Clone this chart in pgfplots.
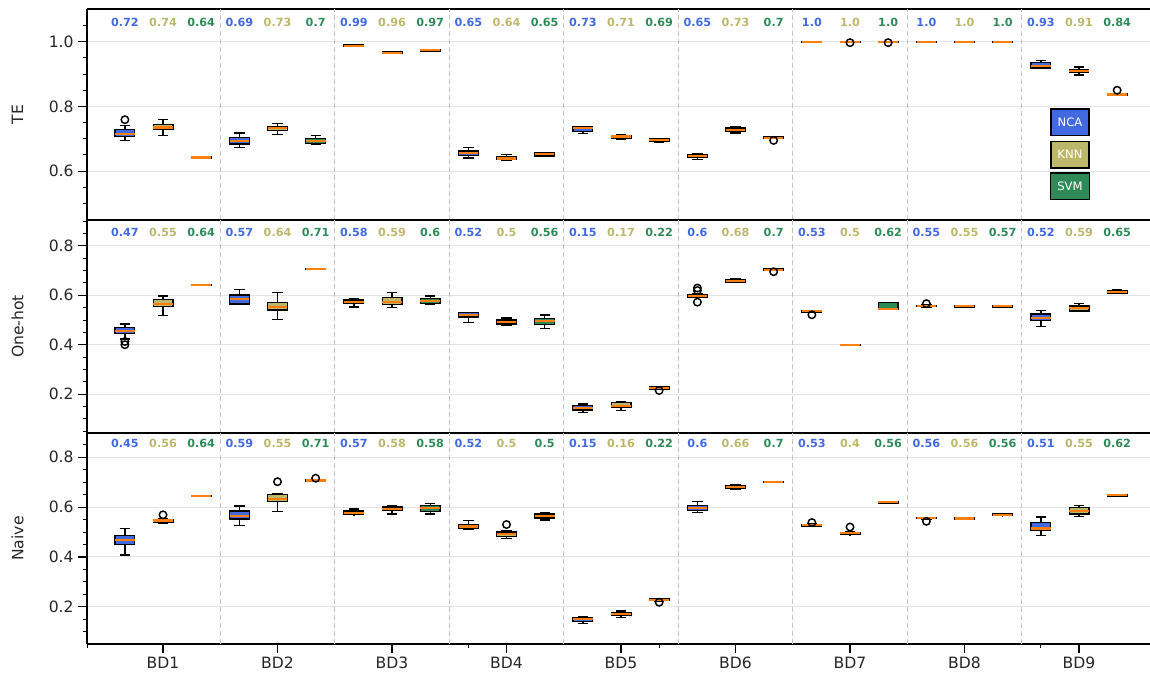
\documentclass[border=0pt]{standalone}
\usepackage{fontspec}
\setmainfont{DejaVu Sans}
\usepackage{pgfplots}
\pgfplotsset{compat=1.18}
\usepgfplotslibrary{statistics}
\definecolor{ncab}{HTML}{4169E1}
\definecolor{knnk}{HTML}{BDB76B}
\definecolor{svmg}{HTML}{2E8B57}
\definecolor{medo}{HTML}{FF7F0E}
\definecolor{gridc}{HTML}{E4E4E4}
\definecolor{vgrid}{HTML}{C4C4C4}

% box: position, lower whisker, lower quartile, median, upper quartile, upper whisker, colour, outliers
\newcommand{\bp}[8]{\addplot[boxplot prepared={draw direction=y, draw position=#1, lower whisker=#2, lower quartile=#3, median=#4, upper quartile=#5, upper whisker=#6, box extend=0.172, whisker extend=0.09}, draw=black, fill=#7, line width=0.95pt, mark=o, mark size=2.8pt, mark options={draw=black, fill=none, line width=1.1pt, solid}] coordinates {#8};}
% mean labels of one group: centre x, y, NCA, KNN, SVM
\newcommand{\mlg}[5]{%
  \node[mlab, text=ncab] at (axis cs:#1-0.333,#2) {#3};
  \node[mlab, text=knnk] at (axis cs:#1,#2) {#4};
  \node[mlab, text=svmg] at (axis cs:#1+0.333,#2) {#5};}

\tikzset{mlab/.style={font=\fontsize{8.4}{9}\selectfont\bfseries, inner sep=0pt},
  lgd/.style={draw=black, line width=1.1pt, text=white, font=\fontsize{8.7}{10}\selectfont, inner xsep=5pt, inner ysep=0pt, minimum height=20pt}}

\pgfplotsset{
  panel/.style={
    scale only axis, width=797.25pt,
    xmin=0.336, xmax=9.62,
    axis x line*=box, axis y line*=left,
    axis line style={black, line width=0.9pt},
    xtick pos=left, ytick pos=left,
    tick align=outside,
    major tick length=6.5pt, minor tick length=3.3pt,
    every major tick/.append style={black, line width=0.9pt},
    every minor tick/.append style={black, line width=0.7pt},
    tick label style={font=\fontsize{11.7}{14}\selectfont, text=black!85},
    ylabel style={at={(axis description cs:-0.0654,0.5)}, anchor=center, font=\fontsize{11.7}{14}\selectfont, text=black!85},
    ymajorgrids, major grid style={gridc, line width=0.8pt},
    extra x ticks={1.5,2.5,3.5,4.5,5.5,6.5,7.5,8.5},
    extra x tick labels={},
    extra x tick style={xmajorgrids=true, major grid style={vgrid, dashed, dash pattern=on 4pt off 2pt, line width=0.7pt}, major tick length=0pt},
    boxplot/every median/.style={draw=medo, line width=1.6pt},
    clip=false,
  }
}

\begin{document}
\begin{tikzpicture}
\path[use as bounding box] (0,0) rectangle (862.5pt,-506.25pt);

% ---------------- TE ----------------
\begin{axis}[panel, at={(65.25pt,-6.75pt)}, anchor=north west, height=158.25pt,
  ymin=0.449, ymax=1.101, ytick={0.6,0.8,1.0}, yticklabels={0.6,0.8,1.0},
  minor ytick={0.5,0.55,0.65,0.7,0.75,0.85,0.9,0.95,1.05},
  xtick=\empty, ylabel={TE}]
\bp{0.667}{0.694}{0.708}{0.715}{0.728}{0.741}{ncab}{(0,0.759)}
\bp{1}{0.710}{0.728}{0.735}{0.744}{0.759}{knnk}{}
\bp{1.333}{0.641}{0.641}{0.642}{0.644}{0.644}{svmg}{}
\bp{1.667}{0.672}{0.684}{0.692}{0.703}{0.718}{ncab}{}
\bp{2}{0.713}{0.725}{0.733}{0.738}{0.747}{knnk}{}
\bp{2.333}{0.682}{0.685}{0.692}{0.700}{0.710}{svmg}{}
\bp{2.667}{0.985}{0.985}{0.988}{0.990}{0.990}{ncab}{}
\bp{3}{0.964}{0.964}{0.966}{0.968}{0.968}{knnk}{}
\bp{3.333}{0.971}{0.971}{0.974}{0.976}{0.976}{svmg}{}
\bp{3.667}{0.641}{0.648}{0.655}{0.662}{0.674}{ncab}{}
\bp{4}{0.632}{0.635}{0.639}{0.644}{0.652}{knnk}{}
\bp{4.333}{0.646}{0.647}{0.652}{0.656}{0.657}{svmg}{}
\bp{4.667}{0.716}{0.723}{0.733}{0.737}{0.737}{ncab}{}
\bp{5}{0.699}{0.702}{0.707}{0.711}{0.714}{knnk}{}
\bp{5.333}{0.690}{0.692}{0.696}{0.700}{0.701}{svmg}{}
\bp{5.667}{0.637}{0.642}{0.646}{0.651}{0.653}{ncab}{}
\bp{6}{0.718}{0.722}{0.727}{0.733}{0.736}{knnk}{}
\bp{6.333}{0.700}{0.701}{0.703}{0.706}{0.706}{svmg}{(0,0.695)}
\bp{6.667}{0.998}{0.999}{1.0}{1.0}{1.0}{ncab}{}
\bp{7}{0.999}{0.999}{1.0}{1.0}{1.0}{knnk}{(0,0.997)}
\bp{7.333}{0.999}{0.999}{1.0}{1.0}{1.0}{svmg}{(0,0.997)}
\bp{7.667}{0.999}{0.999}{1.0}{1.0}{1.0}{ncab}{}
\bp{8}{0.999}{0.999}{1.0}{1.0}{1.0}{knnk}{}
\bp{8.333}{0.999}{0.999}{1.0}{1.0}{1.0}{svmg}{}
\bp{8.667}{0.917}{0.919}{0.925}{0.936}{0.943}{ncab}{}
\bp{9}{0.897}{0.904}{0.909}{0.914}{0.922}{knnk}{}
\bp{9.333}{0.833}{0.834}{0.837}{0.840}{0.841}{svmg}{(0,0.850)}
\mlg{1}{1.058}{0.72}{0.74}{0.64}
\mlg{2}{1.058}{0.69}{0.73}{0.7}
\mlg{3}{1.058}{0.99}{0.96}{0.97}
\mlg{4}{1.058}{0.65}{0.64}{0.65}
\mlg{5}{1.058}{0.73}{0.71}{0.69}
\mlg{6}{1.058}{0.65}{0.73}{0.7}
\mlg{7}{1.058}{1.0}{1.0}{1.0}
\mlg{8}{1.058}{1.0}{1.0}{1.0}
\mlg{9}{1.058}{0.93}{0.91}{0.84}
\node[lgd, fill=ncab] at (axis cs:8.921,0.751) {NCA};
\node[lgd, fill=knnk] at (axis cs:8.921,0.651) {KNN};
\node[lgd, fill=svmg] at (axis cs:8.921,0.553) {SVM};
\end{axis}

% ---------------- One-hot ----------------
\begin{axis}[panel, at={(65.25pt,-165pt)}, anchor=north west, height=159.75pt,
  ymin=0.0432, ymax=0.904, ytick={0.2,0.4,0.6,0.8}, yticklabels={0.2,0.4,0.6,0.8},
  minor ytick={0.05,0.1,0.15,0.25,0.3,0.35,0.45,0.5,0.55,0.65,0.7,0.75,0.85,0.9},
  xtick=\empty, ylabel={One-hot}]
\bp{0.667}{0.423}{0.444}{0.456}{0.469}{0.484}{ncab}{(0,0.413) (0,0.400)}
\bp{1}{0.518}{0.555}{0.563}{0.582}{0.597}{knnk}{}
\bp{1.333}{0.640}{0.640}{0.642}{0.644}{0.644}{svmg}{}
\bp{1.667}{0.562}{0.565}{0.583}{0.601}{0.622}{ncab}{}
\bp{2}{0.503}{0.540}{0.551}{0.571}{0.612}{knnk}{}
\bp{2.333}{0.704}{0.704}{0.706}{0.708}{0.708}{svmg}{}
\bp{2.667}{0.552}{0.567}{0.574}{0.581}{0.586}{ncab}{}
\bp{3}{0.551}{0.563}{0.571}{0.592}{0.612}{knnk}{}
\bp{3.333}{0.564}{0.567}{0.578}{0.588}{0.597}{svmg}{}
\bp{3.667}{0.491}{0.512}{0.521}{0.529}{0.530}{ncab}{}
\bp{4}{0.480}{0.484}{0.493}{0.500}{0.508}{knnk}{}
\bp{4.333}{0.466}{0.481}{0.495}{0.505}{0.520}{svmg}{}
\bp{4.667}{0.127}{0.136}{0.144}{0.153}{0.160}{ncab}{}
\bp{5}{0.133}{0.147}{0.154}{0.166}{0.170}{knnk}{}
\bp{5.333}{0.219}{0.220}{0.224}{0.229}{0.230}{svmg}{(0,0.215)}
\bp{5.667}{0.592}{0.593}{0.598}{0.604}{0.606}{ncab}{(0,0.629) (0,0.619) (0,0.572)}
\bp{6}{0.652}{0.652}{0.659}{0.664}{0.666}{knnk}{}
\bp{6.333}{0.700}{0.700}{0.703}{0.706}{0.708}{svmg}{(0,0.695)}
\bp{6.667}{0.531}{0.531}{0.535}{0.538}{0.538}{ncab}{(0,0.521)}
\bp{7}{0.398}{0.398}{0.400}{0.402}{0.402}{knnk}{}
\bp{7.333}{0.544}{0.544}{0.546}{0.571}{0.571}{svmg}{}
\bp{7.667}{0.552}{0.553}{0.556}{0.559}{0.560}{ncab}{(0,0.566)}
\bp{8}{0.551}{0.552}{0.555}{0.557}{0.558}{knnk}{}
\bp{8.333}{0.551}{0.552}{0.555}{0.557}{0.558}{svmg}{}
\bp{8.667}{0.473}{0.497}{0.507}{0.524}{0.538}{ncab}{}
\bp{9}{0.535}{0.536}{0.547}{0.556}{0.567}{knnk}{}
\bp{9.333}{0.606}{0.607}{0.613}{0.619}{0.621}{svmg}{}
\mlg{1}{0.855}{0.47}{0.55}{0.64}
\mlg{2}{0.855}{0.57}{0.64}{0.71}
\mlg{3}{0.855}{0.58}{0.59}{0.6}
\mlg{4}{0.855}{0.52}{0.5}{0.56}
\mlg{5}{0.855}{0.15}{0.17}{0.22}
\mlg{6}{0.855}{0.6}{0.68}{0.7}
\mlg{7}{0.855}{0.53}{0.5}{0.62}
\mlg{8}{0.855}{0.55}{0.55}{0.57}
\mlg{9}{0.855}{0.52}{0.59}{0.65}
\end{axis}

% ---------------- Naive ----------------
\begin{axis}[panel, at={(65.25pt,-324.75pt)}, anchor=north west, height=158.25pt,
  ymin=0.0502, ymax=0.8976, ytick={0.2,0.4,0.6,0.8}, yticklabels={0.2,0.4,0.6,0.8},
  minor ytick={0.1,0.15,0.25,0.3,0.35,0.45,0.5,0.55,0.65,0.7,0.75,0.85},
  xtick={1,2,3,4,5,6,7,8,9}, xticklabels={BD1,BD2,BD3,BD4,BD5,BD6,BD7,BD8,BD9},
  minor xtick={0.336,3.667,5.333,8.667}, ylabel={Naive}]
\bp{0.667}{0.408}{0.450}{0.468}{0.485}{0.515}{ncab}{}
\bp{1}{0.533}{0.539}{0.546}{0.551}{0.555}{knnk}{(0,0.569)}
\bp{1.333}{0.644}{0.644}{0.645}{0.647}{0.647}{svmg}{}
\bp{1.667}{0.525}{0.552}{0.566}{0.584}{0.604}{ncab}{}
\bp{2}{0.582}{0.622}{0.633}{0.651}{0.655}{knnk}{(0,0.702)}
\bp{2.333}{0.704}{0.705}{0.707}{0.709}{0.710}{svmg}{(0,0.716)}
\bp{2.667}{0.569}{0.570}{0.577}{0.584}{0.592}{ncab}{}
\bp{3}{0.572}{0.587}{0.593}{0.600}{0.604}{knnk}{}
\bp{3.333}{0.572}{0.582}{0.598}{0.606}{0.614}{svmg}{}
\bp{3.667}{0.512}{0.514}{0.522}{0.530}{0.545}{ncab}{}
\bp{4}{0.475}{0.483}{0.493}{0.500}{0.505}{knnk}{(0,0.530)}
\bp{4.333}{0.548}{0.556}{0.565}{0.572}{0.578}{svmg}{}
\bp{4.667}{0.134}{0.142}{0.150}{0.158}{0.162}{ncab}{}
\bp{5}{0.156}{0.164}{0.171}{0.177}{0.183}{knnk}{}
\bp{5.333}{0.223}{0.224}{0.228}{0.232}{0.234}{svmg}{(0,0.218)}
\bp{5.667}{0.578}{0.585}{0.595}{0.606}{0.623}{ncab}{}
\bp{6}{0.672}{0.674}{0.680}{0.686}{0.692}{knnk}{}
\bp{6.333}{0.700}{0.700}{0.702}{0.704}{0.704}{svmg}{}
\bp{6.667}{0.522}{0.523}{0.527}{0.531}{0.532}{ncab}{(0,0.538)}
\bp{7}{0.489}{0.490}{0.495}{0.499}{0.500}{knnk}{(0,0.520)}
\bp{7.333}{0.617}{0.617}{0.619}{0.621}{0.621}{svmg}{}
\bp{7.667}{0.552}{0.553}{0.556}{0.558}{0.559}{ncab}{(0,0.543)}
\bp{8}{0.551}{0.552}{0.554}{0.557}{0.558}{knnk}{}
\bp{8.333}{0.565}{0.566}{0.569}{0.572}{0.573}{svmg}{}
\bp{8.667}{0.486}{0.505}{0.514}{0.538}{0.560}{ncab}{}
\bp{9}{0.562}{0.572}{0.585}{0.597}{0.605}{knnk}{}
\bp{9.333}{0.643}{0.644}{0.647}{0.650}{0.651}{svmg}{}
\mlg{1}{0.857}{0.45}{0.56}{0.64}
\mlg{2}{0.857}{0.59}{0.55}{0.71}
\mlg{3}{0.857}{0.57}{0.58}{0.58}
\mlg{4}{0.857}{0.52}{0.5}{0.5}
\mlg{5}{0.857}{0.15}{0.16}{0.22}
\mlg{6}{0.857}{0.6}{0.66}{0.7}
\mlg{7}{0.857}{0.53}{0.4}{0.56}
\mlg{8}{0.857}{0.56}{0.56}{0.56}
\mlg{9}{0.857}{0.51}{0.55}{0.62}
\end{axis}
\end{tikzpicture}
\end{document}
